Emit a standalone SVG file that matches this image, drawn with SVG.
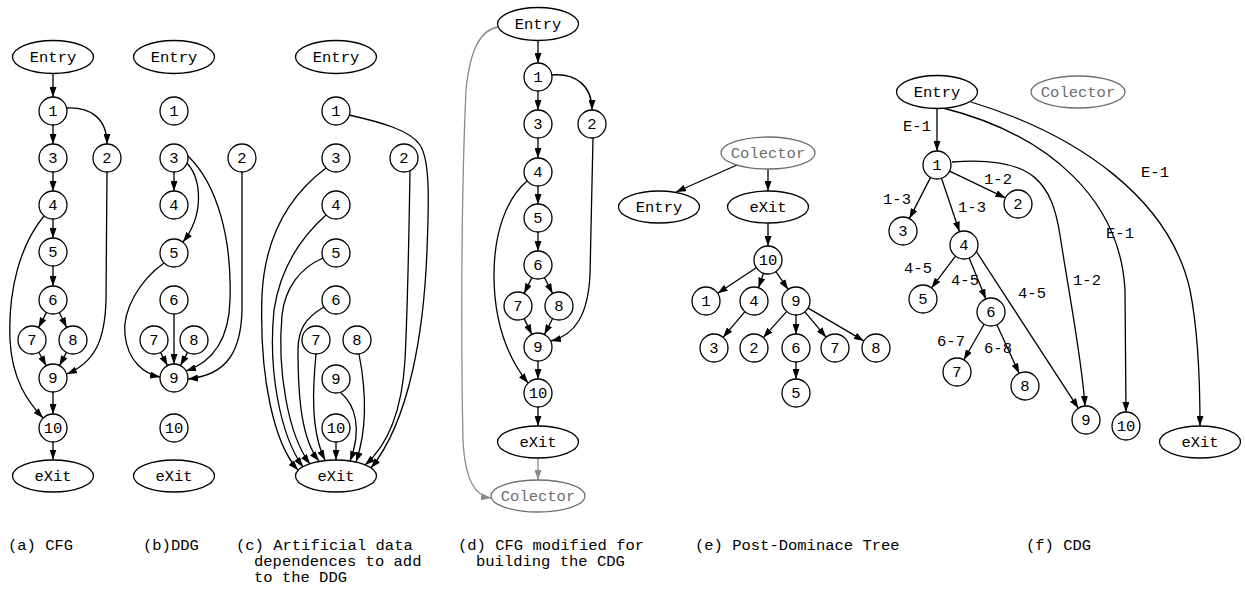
<svg xmlns="http://www.w3.org/2000/svg" width="1245" height="592" viewBox="0 0 1245 592">
<style>
text{font-family:"Liberation Mono","DejaVu Sans Mono",monospace;font-size:15.5px;fill:#000}
.n ellipse,.n circle{fill:#fff;stroke:#000;stroke-width:1.3}
.t{text-anchor:middle}
.gn ellipse{stroke:#6e6e6e}
.gn text{fill:#6e6e6e}
.e path{fill:none;stroke:#000;stroke-width:1.3;marker-end:url(#ah)}
.e path.g{stroke:#8a8a8a;marker-end:url(#ahg)}
.lbl{text-anchor:middle}
</style>
<defs>
<marker id="ah" viewBox="0 0 10 7" refX="10" refY="3.5" markerWidth="10" markerHeight="7" markerUnits="userSpaceOnUse" orient="auto"><path d="M0,0 L10,3.5 L0,7 z" fill="#000"/></marker>
<marker id="ahg" viewBox="0 0 10 7" refX="10" refY="3.5" markerWidth="10" markerHeight="7" markerUnits="userSpaceOnUse" orient="auto"><path d="M0,0 L10,3.5 L0,7 z" fill="#8a8a8a"/></marker>
</defs>
<rect width="1245" height="592" fill="#fff"/>

<g id="connectors" class="e">
<!-- (a) CFG -->
<path d="M53,73.5 L53,97"/>
<path d="M53,125 L53,144"/>
<path d="M53,172 L53,191"/>
<path d="M53,219 L53,238"/>
<path d="M53,266 L53,286"/>
<path d="M46.5,312.4 L38.5,327.6"/>
<path d="M59.3,312.5 L66.7,327.5"/>
<path d="M38.8,352.3 L46.2,365.7"/>
<path d="M66.5,352.4 L59.5,365.6"/>
<path d="M53,392 L53,414"/>
<path d="M53,442 L53,459.5"/>
<path d="M67,108 C90,107 107,118 107,144"/>
<path d="M107,172 L106,300 C105,340 95,362 67,374"/>
<path d="M44,216 C20,245 8,290 10,340 C12,380 28,402 43,418"/>
<!-- (b) DDG -->
<path d="M174,172 L174,191"/>
<path d="M187,163 C202,180 204,215 183,242"/>
<path d="M188,156 C218,185 232,240 230,300 C229,340 212,362 186,371"/>
<path d="M242,172 L242,310 C241,350 228,375 188,379"/>
<path d="M164,263 C140,280 122,310 125,335 C128,362 145,374 160,377"/>
<path d="M174,314 L174,364"/>
<path d="M160.5,352.4 L167.5,365.6"/>
<path d="M187.5,352.4 L180.5,365.6"/>
<!-- (c) artificial -->
<path d="M326,168 C290,195 265,235 262,295 C259,380 275,445 298,470"/>
<path d="M326,215 C298,240 280,270 274,310 C268,370 280,435 303,467"/>
<path d="M323,258 C300,268 285,288 282,315 C277,370 288,435 310,464"/>
<path d="M324,307 C305,318 298,330 298,350 C298,400 302,440 319,461"/>
<path d="M316,354 C313,385 310,430 325,460"/>
<path d="M336,442 L336,460"/>
<path d="M340,392 C356,405 362,430 350,461"/>
<path d="M359,354 C366,390 367,430 356,462"/>
<path d="M410,171 C409,230 408,300 405,360 C402,410 388,445 365,465"/>
<path d="M349,115 C380,122 410,130 420,145 C430,160 429,200 427,250 C424,330 410,420 371,468"/>
<!-- (d) CFG modified -->
<path d="M538,40.5 L538,63"/>
<path d="M538,91 L538,110"/>
<path d="M552,75 C575,73 592,85 592,110"/>
<path d="M538,138 L538,158"/>
<path d="M538,186 L538,204"/>
<path d="M538,232 L538,251"/>
<path d="M531.9,277.6 L524.1,293.4"/>
<path d="M544.4,277.5 L552.6,293.5"/>
<path d="M524.1,318.6 L531.9,334.4"/>
<path d="M552.6,318.5 L544.4,334.5"/>
<path d="M593,138 C592,200 591,240 590,275 C588,315 575,335 551,341"/>
<path d="M527,181 C505,200 494,235 494,275 C494,325 508,358 528,383"/>
<path d="M538,361 L538,379"/>
<path d="M538,407 L538,426"/>
<path class="g" d="M538,458 L538,480"/>
<path class="g" d="M498,27 C480,30 470,50 466,90 C461,200 461,350 463,440 C465,480 475,496 491,498"/>
<!-- (e) post-dominance tree -->
<path d="M737,165 L676,192"/>
<path d="M768,169 L768,191"/>
<path d="M768,223 L768,246"/>
<path d="M756.3,267.7 L717.7,293.3"/>
<path d="M763.5,273.3 L758.5,287.7"/>
<path d="M775.9,271.6 L788.1,289.4"/>
<path d="M744.9,311.7 L723.1,337.3"/>
<path d="M786.7,311.4 L763.3,337.6"/>
<path d="M796,315 L796,334"/>
<path d="M804.9,311.8 L826.1,337.2"/>
<path d="M808.1,308.1 L863.9,340.9"/>
<path d="M796,362 L796,379"/>
<!-- (f) CDG -->
<path d="M937,108.5 L937,151"/>
<path d="M949.6,171.1 L1005.4,197.9"/>
<path d="M930.6,177.4 L909.4,218.6"/>
<path d="M941.5,178.3 L959.5,231.7"/>
<path d="M955.5,256.1 L931.5,287.9"/>
<path d="M969.2,258 L985.8,299"/>
<path d="M976,251 L1078.4,408.3"/>
<path d="M984.1,324.2 L963.9,359.8"/>
<path d="M996.9,324.7 L1019.1,373.3"/>
<path d="M943,108 C1050,135 1120,200 1125,290 L1126,412"/>
<path d="M971,102 C1080,135 1170,200 1190,290 C1198,330 1200,380 1200,426"/>
<path d="M952,162 C1035,155 1052,185 1060,235 C1070,300 1082,360 1085,406"/>
</g>

<g id="edge-labels">
<text class="lbl" x="917" y="131">E-1</text>
<text class="lbl" x="1155" y="177">E-1</text>
<text class="lbl" x="1120" y="238">E-1</text>
<text class="lbl" x="998" y="184">1-2</text>
<text class="lbl" x="897" y="204">1-3</text>
<text class="lbl" x="972" y="212">1-3</text>
<text class="lbl" x="1087" y="285">1-2</text>
<text class="lbl" x="918" y="273">4-5</text>
<text class="lbl" x="965" y="285">4-5</text>
<text class="lbl" x="1032" y="298">4-5</text>
<text class="lbl" x="951" y="346">6-7</text>
<text class="lbl" x="998" y="353">6-8</text>
</g>

<!-- (a) nodes -->
<g id="a-entry" class="n"><ellipse cx="53" cy="57" rx="40.5" ry="16.5"/><text class="t" x="53" y="62">Entry</text></g>
<g id="a-1" class="n"><circle cx="53" cy="111" r="14"/><text class="t" x="53" y="116">1</text></g>
<g id="a-3" class="n"><circle cx="53" cy="158" r="14"/><text class="t" x="53" y="163">3</text></g>
<g id="a-2" class="n"><circle cx="107" cy="158" r="14"/><text class="t" x="107" y="163">2</text></g>
<g id="a-4" class="n"><circle cx="53" cy="205" r="14"/><text class="t" x="53" y="210">4</text></g>
<g id="a-5" class="n"><circle cx="53" cy="252" r="14"/><text class="t" x="53" y="257">5</text></g>
<g id="a-6" class="n"><circle cx="53" cy="300" r="14"/><text class="t" x="53" y="305">6</text></g>
<g id="a-7" class="n"><circle cx="32" cy="340" r="14"/><text class="t" x="32" y="345">7</text></g>
<g id="a-8" class="n"><circle cx="73" cy="340" r="14"/><text class="t" x="73" y="345">8</text></g>
<g id="a-9" class="n"><circle cx="53" cy="378" r="14"/><text class="t" x="53" y="383">9</text></g>
<g id="a-10" class="n"><circle cx="53" cy="428" r="14"/><text class="t" x="53" y="433">10</text></g>
<g id="a-exit" class="n"><ellipse cx="53" cy="476" rx="40.5" ry="16"/><text class="t" x="53" y="481">eXit</text></g>

<!-- (b) nodes -->
<g id="b-entry" class="n"><ellipse cx="174" cy="57" rx="40.5" ry="16.5"/><text class="t" x="174" y="62">Entry</text></g>
<g id="b-1" class="n"><circle cx="174" cy="111" r="14"/><text class="t" x="174" y="116">1</text></g>
<g id="b-3" class="n"><circle cx="174" cy="158" r="14"/><text class="t" x="174" y="163">3</text></g>
<g id="b-2" class="n"><circle cx="242" cy="158" r="14"/><text class="t" x="242" y="163">2</text></g>
<g id="b-4" class="n"><circle cx="174" cy="205" r="14"/><text class="t" x="174" y="210">4</text></g>
<g id="b-5" class="n"><circle cx="174" cy="253" r="14"/><text class="t" x="174" y="258">5</text></g>
<g id="b-6" class="n"><circle cx="174" cy="300" r="14"/><text class="t" x="174" y="305">6</text></g>
<g id="b-7" class="n"><circle cx="154" cy="340" r="14"/><text class="t" x="154" y="345">7</text></g>
<g id="b-8" class="n"><circle cx="194" cy="340" r="14"/><text class="t" x="194" y="345">8</text></g>
<g id="b-9" class="n"><circle cx="174" cy="378" r="14"/><text class="t" x="174" y="383">9</text></g>
<g id="b-10" class="n"><circle cx="174" cy="428" r="14"/><text class="t" x="174" y="433">10</text></g>
<g id="b-exit" class="n"><ellipse cx="174" cy="476" rx="40.5" ry="16"/><text class="t" x="174" y="481">eXit</text></g>

<!-- (c) nodes -->
<g id="c-entry" class="n"><ellipse cx="336" cy="57" rx="40.5" ry="16.5"/><text class="t" x="336" y="62">Entry</text></g>
<g id="c-1" class="n"><circle cx="336" cy="111" r="14"/><text class="t" x="336" y="116">1</text></g>
<g id="c-3" class="n"><circle cx="336" cy="158" r="14"/><text class="t" x="336" y="163">3</text></g>
<g id="c-2" class="n"><circle cx="404" cy="158" r="14"/><text class="t" x="404" y="163">2</text></g>
<g id="c-4" class="n"><circle cx="336" cy="205" r="14"/><text class="t" x="336" y="210">4</text></g>
<g id="c-5" class="n"><circle cx="336" cy="253" r="14"/><text class="t" x="336" y="258">5</text></g>
<g id="c-6" class="n"><circle cx="336" cy="300" r="14"/><text class="t" x="336" y="305">6</text></g>
<g id="c-7" class="n"><circle cx="316" cy="340" r="14"/><text class="t" x="316" y="345">7</text></g>
<g id="c-8" class="n"><circle cx="357" cy="340" r="14"/><text class="t" x="357" y="345">8</text></g>
<g id="c-9" class="n"><circle cx="336" cy="379" r="14"/><text class="t" x="336" y="384">9</text></g>
<g id="c-10" class="n"><circle cx="336" cy="428" r="14"/><text class="t" x="336" y="433">10</text></g>
<g id="c-exit" class="n"><ellipse cx="336" cy="476" rx="40.5" ry="16"/><text class="t" x="336" y="481">eXit</text></g>

<!-- (d) nodes -->
<g id="d-entry" class="n"><ellipse cx="538" cy="24" rx="40.5" ry="16.5"/><text class="t" x="538" y="29">Entry</text></g>
<g id="d-1" class="n"><circle cx="538" cy="77" r="14"/><text class="t" x="538" y="82">1</text></g>
<g id="d-3" class="n"><circle cx="538" cy="124" r="14"/><text class="t" x="538" y="129">3</text></g>
<g id="d-2" class="n"><circle cx="592" cy="124" r="14"/><text class="t" x="592" y="129">2</text></g>
<g id="d-4" class="n"><circle cx="538" cy="172" r="14"/><text class="t" x="538" y="177">4</text></g>
<g id="d-5" class="n"><circle cx="538" cy="218" r="14"/><text class="t" x="538" y="223">5</text></g>
<g id="d-6" class="n"><circle cx="538" cy="265" r="14"/><text class="t" x="538" y="270">6</text></g>
<g id="d-7" class="n"><circle cx="518" cy="306" r="14"/><text class="t" x="518" y="311">7</text></g>
<g id="d-8" class="n"><circle cx="559" cy="306" r="14"/><text class="t" x="559" y="311">8</text></g>
<g id="d-9" class="n"><circle cx="538" cy="347" r="14"/><text class="t" x="538" y="352">9</text></g>
<g id="d-10" class="n"><circle cx="538" cy="393" r="14"/><text class="t" x="538" y="398">10</text></g>
<g id="d-exit" class="n"><ellipse cx="538" cy="442" rx="40.5" ry="16"/><text class="t" x="538" y="447">eXit</text></g>
<g id="d-colector" class="n gn"><ellipse cx="538" cy="496" rx="47" ry="16"/><text class="t" x="538" y="501">Colector</text></g>

<!-- (e) nodes -->
<g id="e-colector" class="n gn"><ellipse cx="768" cy="153" rx="47" ry="16"/><text class="t" x="768" y="158">Colector</text></g>
<g id="e-entry" class="n"><ellipse cx="659" cy="207" rx="40.5" ry="16"/><text class="t" x="659" y="212">Entry</text></g>
<g id="e-exit" class="n"><ellipse cx="768" cy="207" rx="40.5" ry="16"/><text class="t" x="768" y="212">eXit</text></g>
<g id="e-10" class="n"><circle cx="768" cy="260" r="14"/><text class="t" x="768" y="265">10</text></g>
<g id="e-1" class="n"><circle cx="706" cy="301" r="14"/><text class="t" x="706" y="306">1</text></g>
<g id="e-4" class="n"><circle cx="754" cy="301" r="14"/><text class="t" x="754" y="306">4</text></g>
<g id="e-9" class="n"><circle cx="796" cy="301" r="14"/><text class="t" x="796" y="306">9</text></g>
<g id="e-3" class="n"><circle cx="714" cy="348" r="14"/><text class="t" x="714" y="353">3</text></g>
<g id="e-2" class="n"><circle cx="754" cy="348" r="14"/><text class="t" x="754" y="353">2</text></g>
<g id="e-6" class="n"><circle cx="796" cy="348" r="14"/><text class="t" x="796" y="353">6</text></g>
<g id="e-7" class="n"><circle cx="835" cy="348" r="14"/><text class="t" x="835" y="353">7</text></g>
<g id="e-8" class="n"><circle cx="876" cy="348" r="14"/><text class="t" x="876" y="353">8</text></g>
<g id="e-5" class="n"><circle cx="796" cy="393" r="14"/><text class="t" x="796" y="398">5</text></g>

<!-- (f) nodes -->
<g id="f-entry" class="n"><ellipse cx="937" cy="92" rx="40.5" ry="16.5"/><text class="t" x="937" y="97">Entry</text></g>
<g id="f-colector" class="n gn"><ellipse cx="1078" cy="92" rx="47" ry="16"/><text class="t" x="1078" y="97">Colector</text></g>
<g id="f-1" class="n"><circle cx="937" cy="165" r="14"/><text class="t" x="937" y="170">1</text></g>
<g id="f-2" class="n"><circle cx="1018" cy="204" r="14"/><text class="t" x="1018" y="209">2</text></g>
<g id="f-3" class="n"><circle cx="903" cy="231" r="14"/><text class="t" x="903" y="236">3</text></g>
<g id="f-4" class="n"><circle cx="964" cy="245" r="14"/><text class="t" x="964" y="250">4</text></g>
<g id="f-5" class="n"><circle cx="923" cy="299" r="14"/><text class="t" x="923" y="304">5</text></g>
<g id="f-6" class="n"><circle cx="991" cy="312" r="14"/><text class="t" x="991" y="317">6</text></g>
<g id="f-7" class="n"><circle cx="957" cy="372" r="14"/><text class="t" x="957" y="377">7</text></g>
<g id="f-8" class="n"><circle cx="1025" cy="386" r="14"/><text class="t" x="1025" y="391">8</text></g>
<g id="f-9" class="n"><circle cx="1086" cy="420" r="14"/><text class="t" x="1086" y="425">9</text></g>
<g id="f-10" class="n"><circle cx="1126" cy="426" r="14"/><text class="t" x="1126" y="431">10</text></g>
<g id="f-exit" class="n"><ellipse cx="1200" cy="442" rx="40.5" ry="16"/><text class="t" x="1200" y="447">eXit</text></g>

<g id="captions">
<text x="8" y="550">(a) CFG</text>
<text x="143" y="550">(b)DDG</text>
<text x="236" y="550">(c) Artificial data</text>
<text x="254" y="566">dependences to add</text>
<text x="254" y="582">to the DDG</text>
<text x="458" y="550">(d) CFG modified for</text>
<text x="476" y="566">building the CDG</text>
<text x="695" y="550">(e) Post-Dominace Tree</text>
<text x="1026" y="550">(f) CDG</text>
</g>
</svg>
